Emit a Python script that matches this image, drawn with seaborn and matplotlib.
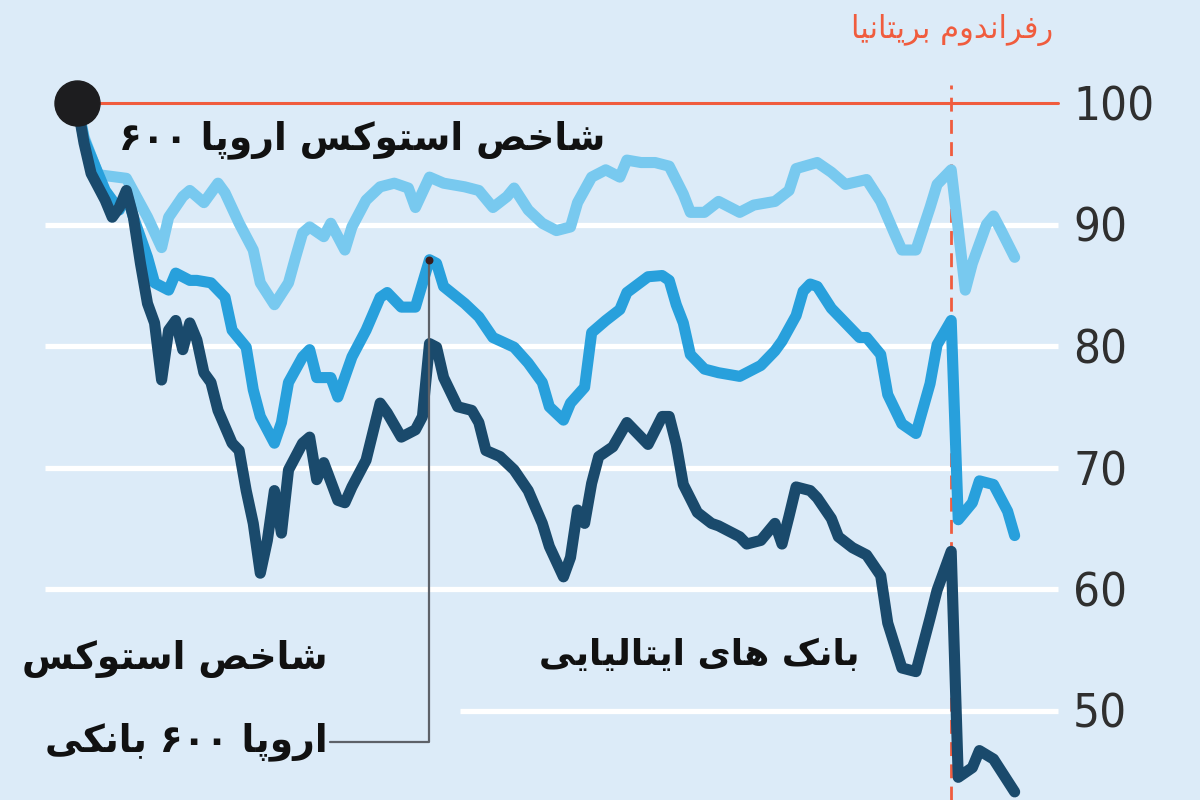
import re
import numpy as np
import pandas as pd
import matplotlib
matplotlib.use("Agg")
import matplotlib.pyplot as plt
import seaborn as sns

# ---- data (index = 100 at start, x = trading session number) ----
light_days = [0, 1, 3, 7, 10, 12, 13, 15, 16, 18, 20, 21, 23, 25, 26, 28, 30, 31, 32, 33,
              35, 36, 38, 39, 41, 43, 45, 47, 48, 50, 52, 55, 57, 59, 61, 62, 64, 66, 68, 70,
              71, 73, 75, 77, 78, 80, 82, 84, 86, 87, 89, 91, 94, 96, 99, 101, 102, 105, 107, 109,
              112, 114, 116, 117, 119, 121, 122, 124, 125, 126, 127, 129, 130, 131, 133]
light_vals = [100, 97.2, 94.1, 93.8, 90.6, 88.1, 90.6, 92.3, 92.8, 91.8, 93.4, 92.6, 90.1, 87.9, 85.2, 83.4, 85.2, 87.3, 89.3, 89.8,
              89.0, 90.1, 87.9, 89.8, 92.0, 93.1, 93.4, 93.0, 91.4, 93.9, 93.4, 93.1, 92.8, 91.4, 92.3, 93.0, 91.2, 90.1, 89.5, 89.8,
              91.8, 93.9, 94.5, 93.9, 95.3, 95.1, 95.1, 94.8, 92.5, 91.0, 91.0, 91.9, 91.0, 91.6, 91.9, 92.8, 94.6, 95.1, 94.3, 93.3,
              93.7, 91.9, 89.2, 87.9, 87.9, 91.4, 93.3, 94.5, 89.6, 84.6, 86.8, 90.0, 90.7, 89.6, 87.3]

banks_days = [0, 1, 2, 4, 6, 7, 8, 10, 11, 13, 14, 16, 17, 19, 21, 22, 24, 25, 26, 28,
              29, 30, 32, 33, 34, 36, 37, 39, 41, 43, 44, 46, 48, 50, 51, 52, 55, 57, 59, 62,
              64, 66, 67, 69, 70, 72, 73, 75, 77, 78, 81, 83, 84, 85, 86, 87, 89, 91, 94, 95,
              97, 99, 100, 102, 103, 104, 105, 107, 109, 111, 112, 114, 115, 117, 119, 121, 122, 124, 125, 127,
              128, 130, 132, 133]
banks_vals = [100, 97.0, 95.6, 92.8, 91.2, 92.6, 90.6, 87.3, 85.2, 84.6, 86.0, 85.4, 85.4, 85.2, 84.0, 81.3, 79.9, 76.4, 74.2, 72.0,
              73.7, 77.0, 79.1, 79.7, 77.4, 77.4, 75.8, 79.1, 81.3, 84.0, 84.4, 83.2, 83.2, 87.1, 86.8, 84.9, 83.5, 82.4, 80.7, 79.9,
              78.6, 77.0, 75.0, 73.9, 75.3, 76.6, 81.1, 82.1, 83.0, 84.4, 85.7, 85.8, 85.4, 83.4, 81.9, 79.3, 78.1, 77.8, 77.5, 77.8,
              78.4, 79.6, 80.4, 82.5, 84.5, 85.1, 84.9, 83.1, 81.9, 80.7, 80.7, 79.3, 76.0, 73.6, 72.8, 76.9, 80.1, 82.1, 65.7, 67.1,
              68.9, 68.6, 66.4, 64.4]

italy_days = [0, 1, 2, 4, 5, 6, 7, 8, 9, 10, 11, 12, 13, 14, 15, 16, 17, 18, 19, 20,
              22, 23, 24, 25, 26, 27, 28, 29, 30, 32, 33, 34, 35, 37, 38, 39, 41, 43, 44, 46,
              48, 49, 50, 51, 52, 54, 56, 57, 58, 60, 62, 64, 66, 67, 69, 70, 71, 72, 73, 74,
              76, 78, 80, 81, 83, 84, 85, 86, 88, 90, 91, 94, 95, 97, 99, 100, 101, 102, 104, 105,
              107, 108, 110, 112, 114, 115, 117, 119, 121, 122, 124, 125, 127, 128, 130, 132, 133]
italy_vals = [100, 96.7, 94.2, 92.0, 90.6, 91.4, 92.8, 90.6, 86.8, 83.5, 81.9, 77.2, 81.3, 82.1, 79.7, 81.9, 80.5, 77.8, 77.0, 74.7,
              72.0, 71.4, 68.1, 65.4, 61.3, 64.0, 68.1, 64.6, 69.8, 72.0, 72.5, 69.0, 70.4, 67.3, 67.1, 68.4, 70.6, 75.3, 74.5, 72.5,
              73.1, 74.2, 80.2, 79.9, 77.4, 75.0, 74.7, 73.7, 71.4, 70.9, 69.8, 68.1, 65.4, 63.5, 61.0, 62.6, 66.5, 65.4, 68.7, 70.9,
              71.7, 73.7, 72.5, 71.9, 74.2, 74.2, 71.9, 68.6, 66.3, 65.4, 65.2, 64.3, 63.7, 64.0, 65.4, 63.7, 66.0, 68.4, 68.1, 67.5,
              65.8, 64.3, 63.4, 62.8, 61.1, 57.2, 53.5, 53.2, 57.6, 59.9, 63.1, 44.5, 45.3, 46.7, 46.0, 44.2, 43.3]

series_names = ["stoxx600", "stoxx600_banks", "italian_banks"]
y_ticks = [50, 60, 70, 80, 90, 100]
brexit_day = 124
callout_day = 50

label_stoxx = "شاخص استوکس اروپا ۶۰۰"
label_banks_1 = "شاخص استوکس"
label_banks_2 = "اروپا ۶۰۰ بانکی"
label_italy = "بانک های ایتالیایی"
label_brexit = "رفراندوم بریتانیا"

BG = "#dcebf8"
RED = "#f05c3e"
colors = {"stoxx600": "#78c9ef", "stoxx600_banks": "#28a0dc", "italian_banks": "#1a4a6c"}

# ---- minimal Persian shaping (matplotlib has no complex text layout) ----
FORMS = {
    "ا": ("\uFE8D", "\uFE8E", None, None),
    "ب": ("\uFE8F", "\uFE90", "\uFE91", "\uFE92"),
    "پ": ("\uFB56", "\uFB57", "\uFB58", "\uFB59"),
    "ت": ("\uFE95", "\uFE96", "\uFE97", "\uFE98"),
    "خ": ("\uFEA5", "\uFEA6", "\uFEA7", "\uFEA8"),
    "د": ("\uFEA9", "\uFEAA", None, None),
    "ر": ("\uFEAD", "\uFEAE", None, None),
    "س": ("\uFEB1", "\uFEB2", "\uFEB3", "\uFEB4"),
    "ش": ("\uFEB5", "\uFEB6", "\uFEB7", "\uFEB8"),
    "ص": ("\uFEB9", "\uFEBA", "\uFEBB", "\uFEBC"),
    "ف": ("\uFED1", "\uFED2", "\uFED3", "\uFED4"),
    "ل": ("\uFEDD", "\uFEDE", "\uFEDF", "\uFEE0"),
    "م": ("\uFEE1", "\uFEE2", "\uFEE3", "\uFEE4"),
    "ن": ("\uFEE5", "\uFEE6", "\uFEE7", "\uFEE8"),
    "ه": ("\uFEE9", "\uFEEA", "\uFEEB", "\uFEEC"),
    "و": ("\uFEED", "\uFEEE", None, None),
    "ک": ("\uFB8E", "\uFB8F", "\uFB90", "\uFB91"),
    "ی": ("\uFBFC", "\uFBFD", "\uFBFE", "\uFBFF"),
}
DIGITS = "۰۱۲۳۴۵۶۷۸۹0123456789"


def fa(text):
    out = []
    for i, ch in enumerate(text):
        if ch not in FORMS:
            out.append(ch)
            continue
        f = FORMS[ch]
        prev = text[i - 1] if i > 0 else ""
        nxt = text[i + 1] if i + 1 < len(text) else ""
        jp = prev in FORMS and FORMS[prev][2] is not None
        jn = f[2] is not None and nxt in FORMS
        out.append(f[3] if jp and jn else f[1] if jp else f[2] if jn else f[0])
    runs = re.findall("[%s]+|[^%s]+" % (DIGITS, DIGITS), "".join(out))
    return "".join(r if r[0] in DIGITS else r[::-1] for r in reversed(runs))


df = pd.concat([
    pd.DataFrame({"day": light_days, "value": light_vals, "series": series_names[0]}),
    pd.DataFrame({"day": banks_days, "value": banks_vals, "series": series_names[1]}),
    pd.DataFrame({"day": italy_days, "value": italy_vals, "series": series_names[2]}),
])

sns.set_style("white", {"axes.facecolor": BG, "figure.facecolor": BG})
plt.rcParams["font.family"] = ["DejaVu Sans"]

fig = plt.figure(figsize=(12, 8), dpi=100)
ax = fig.add_axes([0, 0, 1, 1])
# pixel-like framing: session 0 sits at x=77px, 7.05px per session
ax.set_xlim(-77 / 7.05, (1200 - 77) / 7.05)
ax.set_ylim(100 - (800 - 103) / 12.15, 100 + 103 / 12.15)
for s in ax.spines.values():
    s.set_visible(False)

# gridlines
for v in y_ticks[:-1]:
    ax.axhline(v, xmin=(460 if v == 50 else 45) / 1200, xmax=1058 / 1200,
               color="white", lw=3.8, zorder=1, solid_capstyle="butt")
ax.axhline(100, xmin=77 / 1200, xmax=1058 / 1200, color=RED, lw=2.2, zorder=2)
ax.axvline(brexit_day, ymin=0, ymax=1 - 85 / 800, color=RED, lw=2.0,
           dashes=(5, 3), zorder=2)

sns.lineplot(data=df, x="day", y="value", hue="series", hue_order=series_names,
             palette=colors, linewidth=8, legend=False, estimator=None, sort=True,
             ax=ax, zorder=3, solid_joinstyle="round", solid_capstyle="round")

# start dot
ax.scatter([light_days[0]], [light_vals[0]], s=1050, color="#1d1d1f", zorder=6)

# callout leader for the bank index
peak_val = banks_vals[banks_days.index(callout_day)]
ax.plot([callout_day, callout_day, 35.9], [peak_val, 47.4, 47.4],
        color="#5d6168", lw=1.6, zorder=5)
ax.scatter([callout_day], [peak_val], s=22, color="#3a1c1c", zorder=6)

# y axis labels on the right, inside the figure
ax.set_xticks([])
ax.set_yticks(y_ticks)
ax.yaxis.tick_right()
ax.tick_params(axis="y", length=0, pad=-(1200 - 1073) / 1.389, labelsize=34,
               labelcolor="#2f2f2f")
for lbl in ax.get_yticklabels():
    lbl.set_fontstretch("condensed")
ax.set_xlabel("")
ax.set_ylabel("")

# series labels
ax.text((605 - 77) / 7.05, 96.95, fa(label_stoxx), ha="right", va="center",
        fontsize=27, fontweight="bold", color="#111111", zorder=7)
ax.text((328 - 77) / 7.05, 54.2, fa(label_banks_1), ha="right", va="center",
        fontsize=27, fontweight="bold", color="#111111", zorder=7)
ax.text((328 - 77) / 7.05, 47.4, fa(label_banks_2), ha="right", va="center",
        fontsize=27, fontweight="bold", color="#111111", zorder=7)
ax.text((860 - 77) / 7.05, 54.6, fa(label_italy), ha="right", va="center",
        fontsize=26, fontweight="bold", color="#111111", zorder=7)
ax.text((1053 - 77) / 7.05, 106.0, fa(label_brexit), ha="right", va="center",
        fontsize=22, color=RED, zorder=7)

fig.savefig("out.png", dpi=100, facecolor=BG)
